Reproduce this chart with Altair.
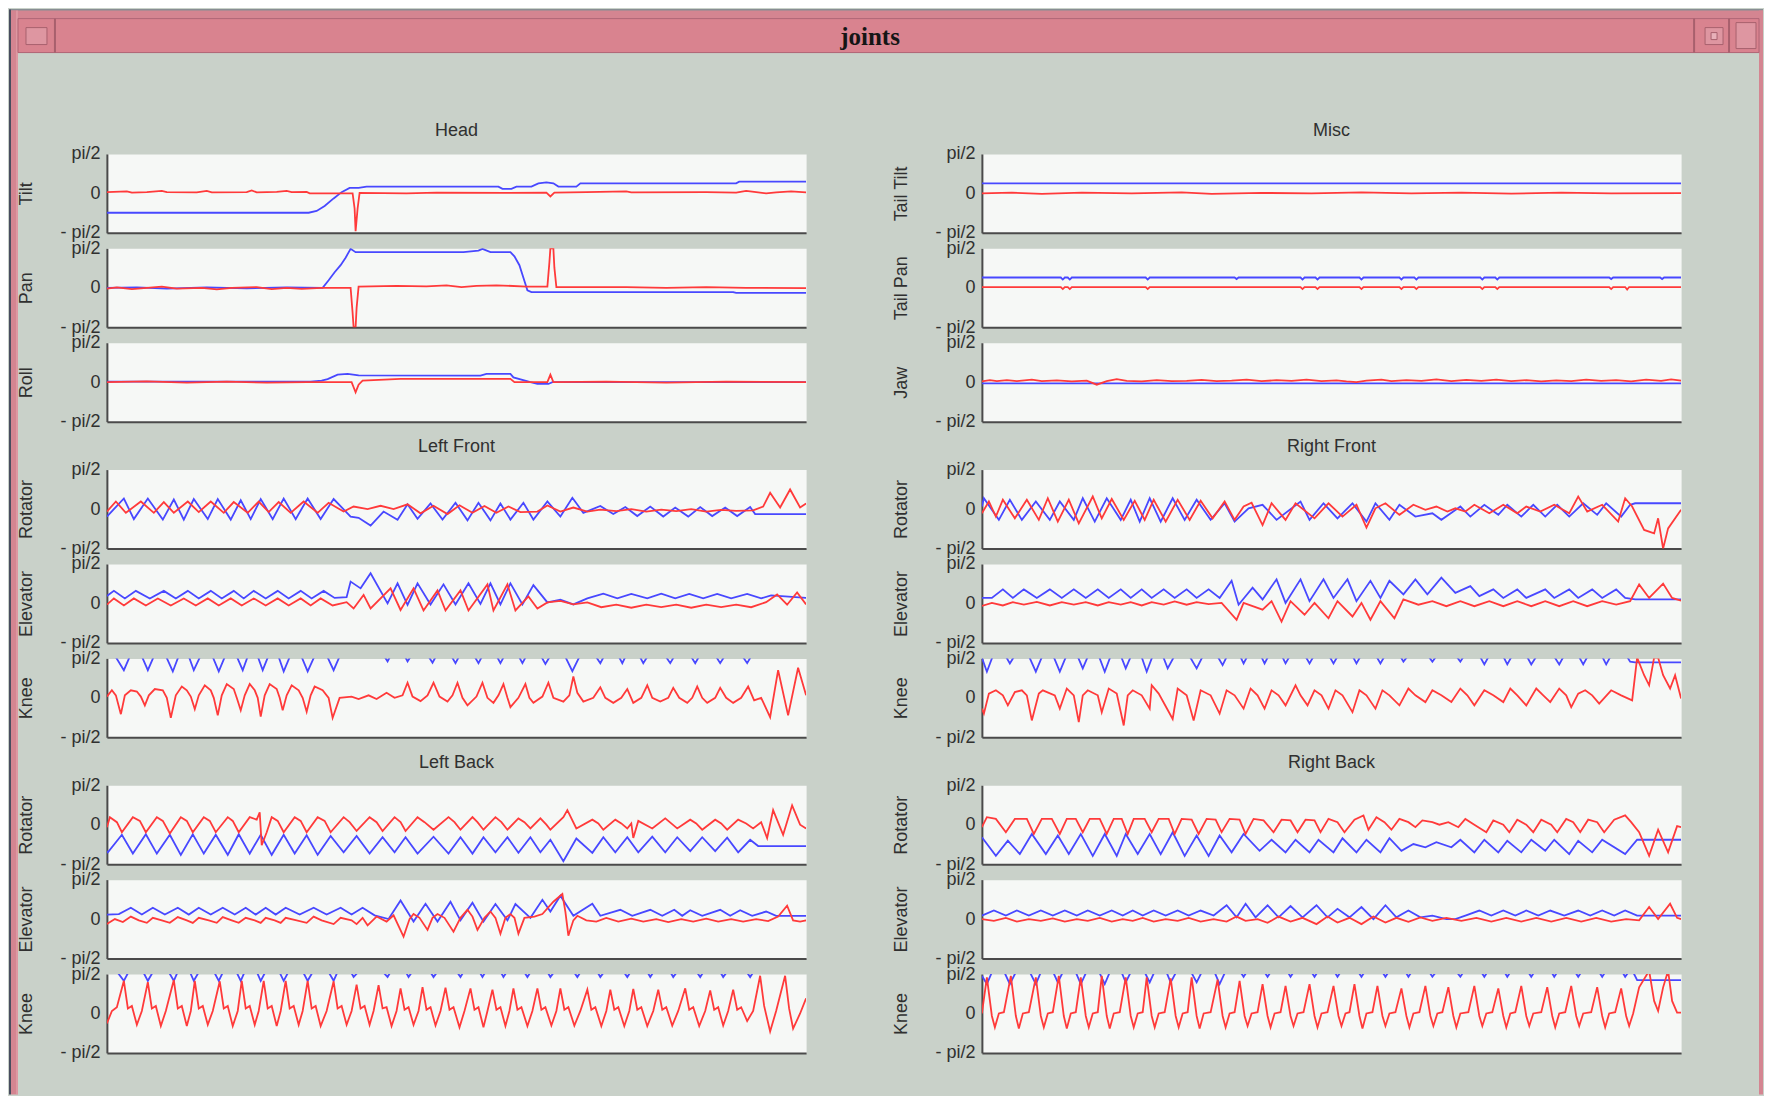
import math
import altair as alt
import pandas as pd

PI2 = math.pi / 2
FRAMES = 700

RED = "#ff3a3a"
BLUE = "#4848ff"
WINDOW = "#c9d1c9"
PLOT_BG = "#f6f8f6"
AXIS = "#4a4a4a"
TEXT = "#303030"
PINK = "#d9838f"
PINK_FRAME = "#d48591"
PINK_DARK = "#a8606d"
DARK = "#474d5e"
FONT = "Liberation Sans"

# ---------------- data: (frame, angle in rad) ----------------
# Head
HEAD_TILT_BLUE = [(0,-0.77),(202,-0.77),(210,-0.7),(218,-0.5),(227,-0.2),(235,0.05),(243,0.22),(252,0.22),(260,0.27),
                  (392,0.27),(396,0.18),(405,0.18),(410,0.27),(425,0.27),(432,0.4),(440,0.44),(447,0.4),(452,0.27),
                  (470,0.27),(474,0.4),(630,0.4),(633,0.47),(700,0.47)]
HEAD_TILT_RED = [(0,0.05),(20,0.08),(25,0.03),(40,0.05),(55,0.1),(60,0.05),(90,0.04),(100,0.1),(105,0.04),(140,0.05),
                 (145,0.12),(150,0.04),(170,0.06),(180,0.1),(185,0.05),(200,0.06),(203,0.0),(246,0.0),(248,-0.6),
                 (249,-1.5),(251,-0.6),(253,0.02),(300,0.0),(330,0.03),(400,0.02),(440,0.03),(444,-0.12),(448,0.03),
                 (480,0.05),(520,0.08),(525,0.04),(600,0.05),(630,0.03),(640,0.1),(650,0.05),(660,0.0),(670,0.04),
                 (685,0.08),(700,0.04)]
HEAD_PAN_BLUE = [(0,0.0),(30,0.02),(60,-0.03),(100,0.02),(140,-0.02),(180,0.02),(216,0.0),(222,0.3),(228,0.62),
                 (234,0.9),(239,1.2),(244,1.55),(249,1.42),(357,1.42),(372,1.48),(376,1.55),(384,1.42),(404,1.42),
                 (408,1.25),(413,0.9),(417,0.4),(421,-0.1),(425,-0.17),(627,-0.17),(630,-0.2),(700,-0.2)]
HEAD_PAN_RED = [(0,-0.03),(10,0.02),(25,-0.05),(40,0.0),(55,0.05),(70,-0.03),(95,0.0),(110,-0.06),(125,0.0),
                (150,0.03),(165,-0.05),(180,0.0),(195,-0.04),(215,0.0),(244,0.0),(246,-1.0),(247,-1.57),(249,-1.57),
                (250,-0.8),(252,0.05),(290,0.08),(320,0.06),(340,0.1),(355,0.03),(370,0.08),(390,0.1),(420,0.05),
                (441,0.05),(443,1.0),(444,1.57),(447,1.57),(448,0.8),(450,0.03),(520,0.03),(560,0.0),(600,0.03),
                (640,0.0),(700,-0.01)]
HEAD_ROLL_BLUE = [(0,0.02),(204,0.02),(215,0.06),(221,0.12),(231,0.3),(241,0.33),(252,0.27),(374,0.26),(380,0.33),
                  (404,0.33),(407,0.19),(424,0.0),(431,-0.07),(442,-0.07),(446,0.0),(700,0.0)]
HEAD_ROLL_RED = [(0,0.0),(40,0.03),(80,-0.02),(120,0.02),(160,-0.02),(200,0.0),(245,0.0),(247,-0.2),(249,-0.4),
                 (252,-0.1),(256,0.06),(294,0.13),(404,0.13),(408,0.0),(441,0.0),(444,0.3),(447,0.0),(500,0.02),
                 (560,-0.02),(620,0.02),(700,0.0)]

# Misc
TAIL_TILT_BLUE = [(0,0.4),(700,0.4)]
TAIL_TILT_RED = [(0,0.0),(30,0.03),(60,-0.02),(100,0.03),(150,0.0),(200,0.04),(230,-0.02),(280,0.02),(330,0.0),
                 (380,0.04),(430,0.0),(480,0.03),(530,-0.01),(580,0.03),(630,0.0),(700,0.01)]
TAIL_PAN_BLUE = [(0,0.41),(79,0.41),(81,0.33),(83,0.41),(86,0.41),(88,0.33),(90,0.41),(164,0.41),(166,0.33),
                 (168,0.41),(253,0.41),(255,0.35),(257,0.41),(319,0.41),(321,0.33),(323,0.41),(334,0.41),(336,0.33),
                 (338,0.41),(378,0.41),(380,0.33),(382,0.41),(418,0.41),(420,0.33),(422,0.41),(433,0.41),(435,0.33),
                 (437,0.41),(499,0.41),(501,0.33),(503,0.41),(514,0.41),(516,0.33),(518,0.41),(628,0.41),(630,0.35),
                 (632,0.41),(679,0.41),(681,0.35),(683,0.41),(700,0.41)]
TAIL_PAN_RED = [(0,0.03),(79,0.03),(81,-0.05),(83,0.03),(86,0.03),(88,-0.05),(90,0.03),(164,0.03),(166,-0.05),
                (168,0.03),(319,0.03),(321,-0.05),(323,0.03),(334,0.03),(336,-0.05),(338,0.03),(378,0.03),(380,-0.05),
                (382,0.03),(418,0.03),(420,-0.05),(422,0.03),(433,0.03),(435,-0.05),(437,0.03),(499,0.03),(501,-0.05),
                (503,0.03),(514,0.03),(516,-0.05),(518,0.03),(628,0.03),(630,-0.05),(632,0.03),(644,0.03),(646,-0.07),
                (648,0.03),(700,0.03)]
JAW_BLUE = [(0,-0.05),(700,-0.05)]
JAW_RED = [(0,0.03),(8,0.08),(15,0.04),(25,0.08),(35,0.04),(50,0.1),(60,0.04),(75,0.07),(90,0.03),(105,0.06),
           (115,-0.1),(125,0.04),(135,0.12),(145,0.05),(160,0.03),(175,0.08),(190,0.04),(205,0.05),(220,0.09),
           (235,0.04),(250,0.06),(265,0.1),(280,0.04),(295,0.08),(310,0.05),(325,0.1),(340,0.04),(355,0.07),
           (365,0.03),(375,0.0),(385,0.06),(400,0.1),(410,0.04),(425,0.08),(440,0.05),(455,0.11),(470,0.04),
           (485,0.09),(500,0.05),(515,0.1),(530,0.04),(545,0.08),(560,0.03),(575,0.07),(590,0.04),(605,0.1),
           (620,0.05),(635,0.08),(650,0.03),(665,0.1),(680,0.05),(690,0.11),(700,0.06)]

# Left Front
LF_ROT_BLUE = [(0,-0.3),(17,0.42),(27,-0.4),(41,0.42),(56,-0.42),(67,0.38),(77,-0.42),(87,0.4),(101,-0.4),(111,0.4),
               (124,-0.42),(134,0.35),(144,-0.4),(154,0.4),(166,-0.4),(177,0.42),(189,-0.4),(201,0.42),(214,-0.4),
               (227,0.4),(244,-0.3),(252,-0.35),(264,-0.66),(277,-0.1),(291,-0.43),(301,0.19),(311,-0.39),(324,0.22),
               (336,-0.42),(349,0.25),(361,-0.45),(372,0.25),(384,-0.45),(394,0.22),(404,-0.42),(417,0.25),
               (427,-0.42),(441,0.3),(454,-0.3),(466,0.45),(477,-0.15),(494,0.12),(507,-0.2),(519,0.08),(531,-0.28),
               (544,0.1),(557,-0.3),(569,0.06),(582,-0.3),(594,0.08),(606,-0.28),(619,0.06),(631,-0.28),(644,0.08),
               (649,-0.2),(700,-0.2)]
LF_ROT_RED = [(0,-0.1),(9,0.3),(19,-0.15),(34,0.3),(47,-0.15),(57,0.28),(67,-0.15),(81,0.3),(92,-0.12),(104,0.3),
              (117,-0.15),(127,0.28),(141,-0.15),(152,0.3),(162,-0.12),(172,0.28),(184,-0.15),(197,0.3),(211,-0.15),
              (222,0.25),(237,-0.1),(247,0.1),(261,0.0),(274,0.13),(287,0.0),(301,0.19),(314,-0.17),(327,0.13),
              (341,-0.2),(353,0.15),(366,-0.15),(378,0.12),(390,-0.15),(402,0.1),(414,-0.12),(431,-0.1),(441,0.14),
              (454,-0.1),(467,0.06),(481,-0.1),(494,-0.02),(510,-0.08),(525,0.0),(540,-0.1),(555,-0.02),(570,-0.08),
              (585,0.0),(600,-0.1),(615,-0.03),(630,-0.07),(647,-0.05),(657,0.1),(664,0.65),(674,0.06),(684,0.78),
              (694,0.06),(700,0.22)]
LF_ELEV_BLUE = [(0,0.3),(7,0.5),(18,0.2),(29,0.5),(43,0.2),(57,0.5),(69,0.2),(81,0.5),(92,0.2),(104,0.5),(115,0.2),
                (127,0.5),(137,0.2),(147,0.5),(159,0.2),(171,0.5),(182,0.2),(194,0.5),(205,0.2),(217,0.5),(228,0.22),
                (240,0.25),(244,0.87),(254,0.6),(264,1.2),(281,0.0),(291,0.8),(301,-0.06),(311,0.8),(324,-0.04),
                (337,0.76),(349,-0.04),(362,0.8),(374,-0.02),(384,0.8),(394,-0.04),(404,0.8),(416,-0.04),(427,0.73),
                (441,0.04),(454,0.15),(467,-0.04),(481,0.2),(497,0.39),(511,0.2),(525,0.38),(541,0.2),(555,0.39),
                (569,0.2),(583,0.38),(597,0.2),(611,0.38),(625,0.2),(641,0.38),(655,0.2),(665,0.32),(700,0.22)]
LF_ELEV_RED = [(0,-0.05),(7,0.2),(17,-0.08),(27,0.2),(39,-0.08),(51,0.2),(64,-0.08),(77,0.2),(89,-0.08),(101,0.2),
               (112,-0.08),(124,0.2),(135,-0.08),(147,0.2),(159,-0.08),(171,0.2),(182,-0.08),(194,0.2),(204,-0.08),
               (214,0.2),(226,-0.08),(240,0.05),(247,-0.2),(257,0.34),(264,-0.2),(284,0.6),(294,-0.26),(307,0.6),
               (317,-0.28),(331,0.52),(339,-0.28),(354,0.52),(362,-0.28),(381,0.76),(387,-0.28),(401,0.76),
               (409,-0.28),(422,0.28),(431,-0.2),(441,0.04),(454,0.1),(467,-0.04),(481,0.04),(495,-0.15),(510,-0.05),
               (525,-0.17),(540,-0.05),(555,-0.15),(570,-0.05),(585,-0.17),(600,-0.05),(615,-0.15),(630,-0.05),
               (645,-0.15),(660,0.05),(671,0.36),(681,-0.05),(691,0.44),(700,-0.04)]
LF_KNEE_BLUE = [(0,2.2),(17,1.1),(29,2.2),(41,1.1),(53,2.2),(66,1.05),(77,2.2),(87,1.1),(100,2.2),(112,1.05),
                (124,2.2),(136,1.1),(146,2.2),(156,1.1),(167,2.2),(177,1.05),(189,2.2),(201,1.05),(214,2.2),
                (227,1.1),(239,2.2),(269,2.2),(281,1.45),(291,2.2),(301,1.45),(313,2.2),(326,1.4),(337,2.2),
                (349,1.38),(360,2.2),(372,1.38),(383,2.2),(394,1.38),(405,2.2),(416,1.38),(427,2.2),(439,1.35),
                (452,2.2),(466,1.06),(480,2.2),(494,1.38),(505,2.2),(516,1.38),(526,2.2),(537,1.38),(550,2.2),
                (564,1.38),(576,2.2),(589,1.38),(601,2.2),(614,1.38),(627,2.2),(641,1.38),(653,2.2),(700,2.2)]
LF_KNEE_RED = [(0,0.05),(5,0.3),(9,0.1),(14,-0.65),(18,0.1),(24,0.3),(30,0.25),(34,0.05),(38,-0.3),(42,0.1),
               (48,0.35),(56,0.3),(60,0.0),(64,-0.8),(69,0.1),(75,0.45),(80,0.3),(84,0.05),(88,-0.45),(92,0.1),
               (98,0.5),(104,0.3),(107,0.0),(111,-0.7),(115,0.1),(120,0.55),(127,0.35),(130,0.0),(134,-0.5),
               (138,0.1),(143,0.55),(148,0.3),(151,0.0),(154,-0.75),(158,0.1),(163,0.55),(170,0.35),(173,0.0),
               (176,-0.5),(180,0.1),(185,0.5),(192,0.3),(196,0.0),(200,-0.55),(204,0.1),(208,0.45),(216,0.3),
               (222,0.0),(226,-0.8),(233,0.0),(245,0.05),(252,-0.05),(262,0.1),(270,-0.05),(280,0.2),(288,0.0),
               (296,0.1),(301,0.6),(306,0.05),(314,-0.13),(321,0.1),(327,0.6),(333,0.05),(341,-0.15),(346,0.1),
               (351,0.6),(356,0.0),(361,-0.3),(370,0.05),(376,0.6),(381,0.0),(387,-0.2),(392,0.1),(397,0.55),
               (401,0.0),(404,-0.37),(412,0.0),(419,0.55),(423,0.0),(427,-0.2),(436,0.05),(442,0.6),(447,0.0),
               (457,-0.15),(463,0.1),(467,0.85),(471,0.2),(477,-0.15),(487,0.0),(494,0.42),(499,0.0),(507,-0.2),
               (515,0.0),(521,0.35),(527,-0.2),(535,0.0),(541,0.5),(546,0.0),(554,-0.15),(562,0.0),(567,0.4),
               (573,0.0),(581,-0.2),(586,0.0),(591,0.45),(596,0.0),(601,-0.2),(609,0.0),(614,0.4),(620,0.0),
               (627,-0.2),(635,0.0),(642,0.45),(648,-0.1),(655,0.0),(664,-0.77),(672,1.1),(682,-0.7),(692,1.2),
               (700,0.1)]

# Left Back
LB_ROT_BLUE = [(0,-1.05),(1,-1.1),(15,-0.4),(26,-1.15),(39,-0.38),(50,-1.15),(63,-0.4),(74,-1.2),(86,-0.38),
               (97,-1.15),(109,-0.4),(121,-1.2),(132,-0.38),(143,-1.15),(154,-0.4),(165,-1.2),(177,-0.4),(188,-1.15),
               (200,-0.42),(211,-1.2),(224,-0.45),(237,-1.1),(250,-0.45),(263,-1.15),(276,-0.5),(288,-1.1),
               (299,-0.5),(311,-1.15),(327,-0.48),(342,-1.15),(354,-0.5),(366,-1.15),(377,-0.5),(389,-1.1),
               (401,-0.5),(412,-1.12),(424,-0.5),(434,-1.1),(444,-0.6),(457,-1.45),(470,-0.55),(486,-1.12),
               (497,-0.5),(509,-1.1),(521,-0.5),(532,-1.1),(546,-0.48),(559,-1.1),(571,-0.5),(584,-1.05),(596,-0.5),
               (609,-1.05),(621,-0.52),(632,-1.1),(644,-0.6),(652,-0.85),(700,-0.85)]
LB_ROT_RED = [(0,-0.1),(3,0.3),(10,0.1),(15,-0.3),(26,0.3),(33,0.15),(39,-0.3),(50,0.3),(56,0.15),(63,-0.35),
              (74,0.3),(80,0.15),(86,-0.3),(97,0.3),(103,0.15),(109,-0.3),(121,0.3),(126,0.15),(132,-0.3),(143,0.3),
              (150,0.2),(153,0.49),(155,-0.82),(160,-0.3),(165,0.3),(171,0.15),(177,-0.3),(188,0.3),(194,0.15),
              (200,-0.3),(211,0.3),(218,0.15),(224,-0.3),(237,0.3),(243,0.1),(250,-0.25),(263,0.3),(270,0.1),
              (276,-0.25),(288,0.3),(294,0.1),(299,-0.25),(311,0.3),(318,0.1),(327,-0.2),(342,0.3),(348,0.1),
              (354,-0.2),(366,0.3),(371,0.1),(377,-0.2),(389,0.3),(395,0.1),(401,-0.2),(412,0.25),(418,0.1),
              (424,-0.15),(434,0.25),(440,0.0),(444,-0.2),(457,0.3),(461,0.58),(470,-0.15),(486,0.2),(492,0.05),
              (497,-0.2),(509,0.2),(515,0.05),(521,-0.15),(525,0.05),(527,-0.53),(532,0.15),(546,-0.15),(559,0.25),
              (565,0.05),(571,-0.15),(584,0.2),(590,0.05),(596,-0.2),(609,0.2),(615,0.05),(621,-0.2),(632,0.2),
              (640,0.05),(647,-0.15),(655,0.1),(661,-0.53),(667,0.58),(677,-0.4),(686,0.77),(694,0.0),(700,-0.15)]
LB_ELEV_BLUE = [(0,0.18),(12,0.2),(24,0.45),(35,0.18),(46,0.45),(58,0.18),(71,0.45),(82,0.18),(92,0.45),(104,0.18),
                (116,0.45),(128,0.18),(139,0.45),(149,0.18),(159,0.45),(169,0.18),(179,0.45),(193,0.18),(207,0.45),
                (220,0.18),(234,0.45),(245,0.18),(256,0.45),(268,0.15),(282,0.0),(294,0.74),(307,-0.1),(319,0.61),
                (331,-0.1),(344,0.69),(354,-0.05),(366,0.65),(377,-0.1),(389,0.6),(401,-0.05),(409,0.6),(424,0.05),
                (436,0.77),(444,0.3),(454,0.93),(467,0.13),(486,0.61),(494,0.13),(514,0.37),(526,0.13),(544,0.37),
                (556,0.13),(568,0.37),(576,0.13),(584,0.35),(596,0.13),(614,0.37),(624,0.13),(634,0.35),(646,0.13),
                (660,0.3),(670,0.13),(700,0.13)]
LB_ELEV_RED = [(0,-0.2),(8,0.0),(16,-0.12),(24,0.1),(32,-0.05),(40,-0.15),(46,0.05),(55,-0.05),(63,-0.15),(71,0.08),
               (80,-0.05),(86,-0.15),(92,0.05),(102,-0.05),(110,-0.15),(116,0.08),(125,-0.05),(132,-0.15),(139,0.05),
               (148,-0.05),(154,-0.15),(159,0.05),(168,-0.05),(174,-0.15),(179,0.05),(190,-0.05),(200,-0.15),
               (207,0.1),(215,-0.05),(227,-0.2),(234,0.05),(245,-0.05),(250,-0.2),(256,0.05),(261,-0.25),(270,0.1),
               (280,-0.1),(287,0.15),(297,-0.7),(303,0.0),(307,0.2),(313,0.05),(321,-0.43),(326,0.05),(331,0.2),
               (338,0.05),(347,-0.5),(354,0.05),(361,0.37),(366,0.1),(371,-0.43),(378,0.05),(384,0.3),(389,0.05),
               (394,-0.58),(399,0.05),(404,0.2),(408,0.05),(412,-0.58),(418,0.05),(428,0.1),(436,0.2),(447,0.69),
               (456,1.0),(459,0.3),(462,-0.66),(467,-0.05),(471,0.13),(480,-0.05),(490,-0.1),(500,0.05),(512,-0.1),
               (525,0.02),(537,-0.1),(550,0.0),(562,-0.12),(575,0.0),(587,-0.1),(600,0.02),(612,-0.1),(625,0.0),
               (637,-0.1),(650,0.0),(662,-0.08),(672,0.1),(681,0.53),(687,-0.05),(694,-0.1),(700,-0.05)]
LB_KNEE_BLUE = [(0,2.2),(17,1.3),(29,2.2),(41,1.3),(54,2.2),(67,1.3),(77,2.2),(87,1.3),(100,2.2),(112,1.3),
                (123,2.2),(134,1.3),(144,2.2),(154,1.3),(166,2.2),(177,1.3),(189,2.2),(201,1.3),(214,2.2),(227,1.3),
                (237,2.2),(247,1.45),(264,2.2),(281,1.45),(292,2.2),(302,1.45),(315,2.2),(327,1.45),(341,2.2),
                (354,1.45),(365,2.2),(376,1.45),(387,2.2),(397,1.45),(409,2.2),(421,1.45),(433,2.2),(444,1.45),
                (458,2.2),(471,1.45),(483,2.2),(494,1.45),(508,2.2),(521,1.45),(533,2.2),(544,1.45),(556,2.2),
                (567,1.45),(581,2.2),(594,1.45),(606,2.2),(617,1.45),(631,2.2),(644,1.45),(656,2.2),(700,2.2)]
LB_KNEE_RED = [(0,-0.4),(5,0.1),(10,0.25),
               (17,1.3),(21,0.2),(25,0.3),(30,-0.45),(35,0.1),
               (41,1.25),(45,0.2),(49,0.3),(54,-0.5),(59,0.1),
               (67,1.33),(71,0.2),(75,0.3),(80,-0.5),(84,0.1),
               (88,1.3),(92,0.2),(96,0.3),(101,-0.45),(106,0.1),
               (113,1.28),(117,0.2),(121,0.3),(126,-0.5),(131,0.1),
               (135,1.3),(139,0.2),(143,0.3),(148,-0.45),(152,0.1),
               (157,1.3),(161,0.2),(165,0.3),(170,-0.5),(174,0.1),
               (179,1.3),(183,0.2),(187,0.3),(192,-0.45),(196,0.1),
               (201,1.3),(205,0.2),(209,0.3),(214,-0.5),(220,0.1),
               (227,1.28),(231,0.2),(235,0.3),(240,-0.45),(245,0.1),
               (250,1.15),(254,0.2),(258,0.3),(263,-0.45),(267,0.1),
               (272,1.13),(276,0.2),(280,0.25),(285,-0.5),(290,0.1),
               (294,1.0),(298,0.15),(302,0.25),(307,-0.45),(312,0.1),
               (316,1.05),(320,0.15),(324,0.25),(329,-0.48),(334,0.1),
               (339,1.03),(343,0.15),(347,0.25),(353,-0.55),(358,0.1),
               (364,1.0),(368,0.15),(372,0.25),(377,-0.55),(381,0.1),
               (386,0.95),(390,0.15),(394,0.25),(399,-0.5),(403,0.1),
               (407,1.0),(411,0.15),(415,0.25),(421,-0.5),(426,0.1),
               (431,1.0),(435,0.15),(439,0.25),(445,-0.48),(450,0.1),
               (454,1.0),(458,0.15),(462,0.25),(468,-0.48),(474,0.1),
               (481,0.95),(485,0.15),(489,0.25),(495,-0.5),(500,0.1),
               (504,0.95),(508,0.15),(512,0.25),(518,-0.5),(523,0.1),
               (527,0.98),(531,0.15),(535,0.25),(541,-0.5),(547,0.1),
               (552,0.95),(556,0.15),(560,0.25),(566,-0.48),(572,0.1),
               (579,1.0),(583,0.15),(587,0.25),(593,-0.5),(599,0.1),
               (604,0.92),(608,0.15),(612,0.25),(617,-0.48),(622,0.1),
               (627,0.95),(631,0.15),(635,0.25),(641,-0.3),(647,0.1),
               (654,1.5),(658,0.3),(664,-0.72),(670,0.1),
               (679,1.5),(683,0.2),(687,-0.6),(694,0.0),(700,0.6)]

# Right Front
RF_ROT_BLUE = [(0,0.1),(2,0.43),(17,-0.43),(28,0.37),(40,-0.43),(54,0.3),(68,-0.43),(78,0.3),(92,-0.43),(101,0.43),
               (113,-0.5),(125,0.43),(139,-0.43),(149,0.37),(158,-0.5),(168,0.43),(179,-0.5),(191,0.43),(203,-0.43),
               (215,0.37),(229,-0.43),(243,0.23),(253,-0.5),(267,0.03),(281,0.17),(295,-0.43),(319,0.3),(328,-0.43),
               (342,0.23),(356,-0.37),(371,0.23),(385,-0.5),(394,0.23),(408,-0.43),(418,0.17),(434,-0.3),
               (451,-0.17),(460,-0.43),(479,0.1),(489,-0.3),(503,0.17),(517,-0.23),(526,0.17),(540,-0.3),(552,0.17),
               (564,-0.3),(576,0.17),(588,-0.3),(602,0.23),(616,-0.23),(625,0.23),(640,-0.3),(649,0.17),(654,0.23),
               (700,0.23)]
RF_ROT_RED = [(0,-0.17),(7,0.3),(14,-0.3),(21,0.37),(33,-0.37),(45,0.37),(57,-0.43),(66,0.43),(76,-0.5),(87,0.37),
              (97,-0.57),(111,0.5),(120,-0.37),(130,0.4),(142,-0.43),(153,0.33),(163,-0.43),(172,0.37),(184,-0.5),
              (196,0.37),(208,-0.43),(219,0.33),(231,-0.37),(243,0.3),(253,-0.43),(262,0.1),(270,0.25),(281,-0.64),
              (290,0.23),(304,-0.43),(314,0.23),(333,-0.37),(347,0.23),(361,-0.3),(375,0.17),(385,-0.74),(394,0.03),
              (404,0.23),(418,-0.23),(432,0.17),(444,-0.03),(455,0.1),(466,-0.1),(474,0.03),(484,-0.1),(493,0.17),
              (508,-0.17),(522,0.17),(536,-0.17),(545,0.1),(559,-0.1),(573,0.17),(588,-0.17),(597,0.5),(606,-0.1),
              (621,0.17),(637,-0.5),(644,0.43),(651,0.1),(663,-0.83),(673,-0.97),(677,-0.37),(682,-1.57),
              (687,-0.77),(700,-0.03)]
RF_ELEV_BLUE = [(0,0.22),(10,0.22),(21,0.56),(31,0.22),(42,0.56),(55,0.22),(68,0.56),(80,0.22),(92,0.56),(104,0.22),
                (116,0.56),(127,0.22),(139,0.56),(149,0.22),(160,0.56),(170,0.22),(182,0.56),(193,0.22),(205,0.56),
                (215,0.22),(227,0.56),(238,0.22),(250,0.9),(257,-0.05),(271,0.63),(281,0.16),(295,0.96),(304,0.02),
                (319,0.96),(328,0.09),(342,0.96),(352,0.22),(366,0.96),(375,0.09),(389,0.9),(399,0.22),(408,0.9),
                (422,0.36),(434,0.96),(446,0.36),(460,1.03),(474,0.42),(489,0.69),(498,0.29),(512,0.56),(522,0.22),
                (536,0.56),(545,0.22),(564,0.56),(573,0.22),(588,0.56),(597,0.22),(611,0.56),(621,0.22),(635,0.56),
                (644,0.22),(654,0.16),(700,0.16)]
RF_ELEV_RED = [(0,-0.1),(10,0.02),(21,-0.08),(31,0.05),(42,-0.05),(55,0.06),(68,-0.08),(80,0.05),(92,-0.05),
               (104,0.05),(116,-0.08),(127,0.05),(139,-0.05),(149,0.05),(160,-0.08),(170,0.05),(182,-0.05),(193,0.08),
               (205,-0.05),(215,0.05),(227,-0.03),(240,0.02),(255,-0.65),(262,0.02),(281,-0.25),(290,0.09),
               (300,-0.72),(309,0.09),(323,-0.45),(333,0.02),(347,-0.59),(356,0.09),(371,-0.52),(380,0.02),
               (389,-0.65),(399,0.09),(413,-0.59),(422,0.16),(437,-0.05),(451,0.09),(465,-0.11),(479,0.09),
               (493,-0.11),(508,0.09),(522,-0.11),(536,0.09),(550,-0.11),(564,0.09),(578,-0.11),(592,0.09),
               (606,-0.11),(621,0.09),(635,-0.05),(649,0.09),(658,0.76),(668,0.22),(682,0.79),(691,0.22),(700,0.11)]
RF_KNEE_BLUE = [(0,1.6),(5,1.04),(16,2.2),(28,1.37),(41,2.2),(54,1.04),(66,2.2),(78,1.04),(90,2.2),(101,1.17),
                (112,2.2),(123,1.04),(134,2.2),(144,1.17),(155,2.2),(165,1.04),(176,2.2),(186,1.17),(200,2.2),
                (215,1.17),(228,2.2),(241,1.3),(252,2.2),(262,1.37),(273,2.2),(283,1.37),(294,2.2),(304,1.37),
                (316,2.2),(328,1.37),(340,2.2),(352,1.37),(364,2.2),(375,1.37),(387,2.2),(399,1.37),(411,2.2),
                (422,1.44),(437,2.2),(451,1.44),(465,2.2),(479,1.44),(491,2.2),(503,1.33),(515,2.2),(526,1.33),
                (538,2.2),(550,1.33),(564,2.2),(578,1.33),(590,2.2),(602,1.33),(614,2.2),(625,1.33),(637,2.2),
                (649,1.44),(654,1.41),(700,1.41)]
RF_KNEE_RED = [(0,-0.43),(2,-0.63),(7,0.17),(14,0.3),(21,0.1),(26,-0.3),(33,0.23),(40,0.3),(45,0.1),(50,-0.9),
               (57,0.17),(61,0.3),(73,0.1),(78,-0.43),(85,0.37),(92,0.1),(97,-0.97),(101,0.1),(106,0.3),(116,0.1),
               (120,-0.57),(127,0.37),(135,0.17),(142,-1.1),(146,0.1),(151,0.3),(160,0.1),(168,-0.43),(170,0.5),
               (177,0.17),(191,-0.84),(196,0.37),(205,0.1),(212,-0.9),(219,0.3),(229,0.1),(238,-0.63),(245,0.3),
               (253,0.1),(262,-0.43),(269,0.37),(276,0.1),(283,-0.43),(290,0.3),(297,0.1),(304,-0.3),(314,0.5),
               (319,0.1),(326,-0.3),(333,0.3),(340,0.1),(347,-0.43),(354,0.3),(361,0.1),(371,-0.57),(378,0.3),
               (385,0.1),(394,-0.43),(401,0.3),(408,0.1),(418,-0.3),(427,0.37),(434,0.1),(444,-0.17),(451,0.3),
               (460,0.1),(470,-0.17),(479,0.37),(486,0.1),(493,-0.3),(503,0.3),(512,0.1),(522,-0.17),(529,0.37),
               (536,0.1),(545,-0.3),(555,0.37),(562,0.1),(569,-0.17),(578,0.37),(585,0.1),(590,-0.37),(597,0.17),
               (604,0.3),(611,0.1),(618,-0.23),(630,0.3),(640,0.1),(651,-0.1),(656,1.6),(663,0.9),(668,0.5),
               (673,1.6),(677,1.6),(682,0.9),(689,0.37),(694,0.9),(700,-0.03)]

# Right Back
RB_ROT_BLUE = [(0,-0.5),(14,-1.24),(26,-0.64),(38,-1.17),(50,-0.37),(64,-1.17),(76,-0.43),(87,-1.17),(99,-0.37),
               (111,-1.24),(123,-0.37),(135,-1.24),(144,-0.37),(156,-1.17),(168,-0.37),(179,-1.17),(191,-0.3),
               (203,-1.24),(215,-0.43),(227,-1.24),(238,-0.43),(250,-1.1),(262,-0.37),(278,-1.04),(290,-0.6),
               (304,-1.1),(314,-0.6),(328,-1.1),(337,-0.6),(352,-1.1),(361,-0.54),(375,-1.1),(385,-0.6),(399,-1.1),
               (408,-0.54),(420,-1.04),(432,-0.77),(444,-0.9),(455,-0.7),(470,-0.9),(479,-0.6),(493,-1.1),
               (503,-0.6),(517,-1.1),(526,-0.64),(540,-1.1),(550,-0.6),(564,-1.04),(573,-0.6),(588,-1.17),
               (597,-0.64),(611,-1.1),(621,-0.6),(644,-1.17),(656,-0.6),(700,-0.6)]
RB_ROT_RED = [(0,-0.1),(5,0.3),(14,0.23),(24,-0.3),(33,0.23),(45,0.23),(52,-0.37),(60,0.23),(70,0.23),(78,-0.37),
              (85,0.23),(94,0.23),(101,-0.3),(108,0.23),(118,0.23),(125,-0.37),(132,0.23),(140,0.23),(146,-0.37),
              (152,0.23),(163,0.23),(170,-0.3),(177,0.23),(187,0.23),(193,-0.37),(200,0.23),(210,0.2),(217,-0.37),
              (225,0.23),(234,0.2),(240,-0.3),(248,0.23),(258,0.2),(264,-0.37),(272,0.23),(282,0.17),(292,-0.3),
              (300,0.2),(309,0.17),(316,-0.3),(324,0.2),(333,0.17),(339,-0.3),(347,0.23),(356,0.1),(363,-0.3),
              (373,0.2),(382,0.37),(387,-0.2),(395,0.3),(403,0.1),(410,-0.2),(418,0.23),(427,0.1),(434,-0.1),
              (441,0.17),(451,0.1),(458,0.0),(467,0.1),(477,-0.1),(484,0.23),(493,0.0),(505,-0.3),(512,0.17),
              (522,0.0),(528,-0.3),(536,0.2),(545,0.0),(552,-0.3),(560,0.2),(570,0.0),(576,-0.3),(585,0.23),
              (592,0.1),(599,-0.3),(607,0.2),(616,0.1),(623,-0.3),(633,0.2),(644,0.37),(650,0.1),(658,-0.3),
              (668,-1.24),(677,-0.2),(687,-1.1),(696,-0.06),(700,-0.1)]
RB_ELEV_BLUE = [(0,0.14),(12,0.34),(24,0.14),(35,0.34),(47,0.14),(59,0.34),(71,0.14),(83,0.34),(95,0.14),(106,0.34),
                (118,0.14),(130,0.34),(141,0.14),(151,0.34),(161,0.14),(172,0.34),(184,0.14),(196,0.34),(207,0.14),
                (219,0.34),(232,0.14),(245,0.55),(255,0.07),(264,0.61),(274,0.07),(286,0.55),(297,0.07),(309,0.52),
                (321,0.07),(335,0.55),(346,0.07),(356,0.41),(368,0.07),(380,0.48),(392,0.0),(404,0.55),(415,0.07),
                (427,0.34),(439,0.07),(451,0.14),(465,0.0),(474,0.0),(484,0.14),(498,0.34),(510,0.14),(522,0.34),
                (534,0.14),(545,0.34),(557,0.14),(569,0.34),(583,0.14),(597,0.34),(609,0.14),(621,0.34),(633,0.14),
                (644,0.34),(656,0.14),(700,0.14)]
RB_ELEV_RED = [(0,0.0),(12,-0.07),(24,0.05),(35,-0.1),(47,0.0),(59,-0.07),(71,0.03),(83,-0.1),(95,0.0),(106,-0.07),
               (118,0.05),(130,-0.1),(141,0.0),(151,-0.07),(161,0.05),(172,-0.1),(184,0.0),(196,-0.07),(207,0.05),
               (219,-0.1),(232,0.0),(245,-0.1),(255,0.1),(264,-0.07),(276,0.0),(286,-0.15),(297,0.1),(309,-0.1),
               (321,0.05),(335,-0.2),(346,0.1),(356,-0.14),(368,0.05),(380,-0.2),(392,0.1),(404,-0.14),(415,0.05),
               (427,-0.11),(439,0.07),(451,-0.07),(465,0.05),(480,-0.07),(495,0.05),(510,-0.1),(525,0.05),(540,-0.1),
               (555,0.05),(570,-0.1),(585,0.05),(600,-0.1),(615,0.05),(630,-0.1),(645,0.0),(658,-0.05),(668,0.48),
               (677,0.0),(689,0.61),(696,0.05),(700,0.0)]
RB_KNEE_BLUE = [(0,1.5),(5,1.17),(16,2.2),(28,1.17),(41,2.2),(54,1.17),(65,2.2),(76,1.24),(88,2.2),(99,1.17),
                (111,2.2),(123,1.17),(134,2.2),(144,1.24),(156,2.2),(168,1.24),(179,2.2),(189,1.24),(202,2.2),
                (215,1.24),(227,2.2),(238,1.17),(250,2.2),(262,1.46),(274,2.2),(286,1.46),(298,2.2),(309,1.46),
                (321,2.2),(333,1.46),(345,2.2),(356,1.46),(368,2.2),(380,1.46),(392,2.2),(404,1.46),(416,2.2),
                (427,1.46),(439,2.2),(451,1.46),(465,2.2),(479,1.46),(491,2.2),(503,1.46),(515,2.2),(526,1.46),
                (538,2.2),(550,1.46),(562,2.2),(573,1.46),(585,2.2),(597,1.46),(609,2.2),(621,1.46),(633,2.2),
                (644,1.46),(650,1.8),(656,1.33),(700,1.33)]
RB_KNEE_RED = [(0,0.0),
               (5,1.44),(10,-0.1),(13,-0.55),(17,0.0),(22,0.05),
               (29,1.5),(34,-0.1),(37,-0.6),(41,0.0),(47,0.05),
               (54,1.44),(59,-0.1),(62,-0.55),(66,0.0),(71,0.05),
               (77,1.5),(82,-0.1),(85,-0.6),(89,0.0),(94,0.05),
               (99,1.44),(104,-0.1),(107,-0.55),(111,0.0),(116,0.05),
               (120,1.5),(125,-0.1),(128,-0.6),(132,0.0),(138,0.05),
               (144,1.44),(149,-0.1),(152,-0.55),(156,0.0),(161,0.05),
               (165,1.44),(170,-0.1),(173,-0.55),(177,0.0),(183,0.05),
               (189,1.4),(194,-0.1),(197,-0.55),(201,0.0),(206,0.05),
               (210,1.44),(215,-0.1),(218,-0.6),(222,0.0),(229,0.05),
               (236,1.35),(241,-0.1),(244,-0.55),(248,0.0),(253,0.05),
               (258,1.3),(263,-0.1),(266,-0.5),(270,0.0),(276,0.05),
               (281,1.17),(286,-0.1),(289,-0.55),(293,0.0),(299,0.05),
               (304,1.1),(309,-0.1),(312,-0.5),(316,0.0),(322,0.05),
               (328,1.17),(333,-0.1),(336,-0.55),(340,0.0),(346,0.05),
               (352,1.1),(357,-0.1),(360,-0.5),(364,0.0),(368,0.05),
               (373,1.17),(378,-0.1),(381,-0.6),(385,0.0),(391,0.05),
               (396,1.1),(401,-0.1),(404,-0.5),(408,0.0),(414,0.05),
               (420,1.0),(425,-0.1),(428,-0.55),(432,0.0),(438,0.05),
               (444,1.1),(449,-0.1),(452,-0.5),(456,0.0),(461,0.05),
               (467,1.05),(472,-0.1),(475,-0.55),(479,0.0),(487,0.05),
               (493,1.1),(498,-0.1),(501,-0.5),(505,0.0),(511,0.05),
               (517,1.0),(522,-0.1),(525,-0.55),(529,0.0),(534,0.05),
               (540,1.1),(545,-0.1),(548,-0.5),(552,0.0),(560,0.05),
               (566,1.05),(571,-0.1),(574,-0.55),(578,0.0),(584,0.05),
               (590,1.1),(595,-0.1),(598,-0.5),(602,0.0),(610,0.05),
               (616,1.05),(621,-0.1),(624,-0.55),(628,0.0),(634,0.05),
               (640,1.0),(645,-0.1),(648,-0.5),(652,0.0),
               (658,1.04),(668,1.7),(673,0.5),(677,0.1),(682,1.04),(687,1.7),(691,0.5),(696,0.03),(700,0.03)]

LEFT_GROUPS = [
    ("Head", [("Tilt", HEAD_TILT_RED, HEAD_TILT_BLUE),
              ("Pan", HEAD_PAN_RED, HEAD_PAN_BLUE),
              ("Roll", HEAD_ROLL_RED, HEAD_ROLL_BLUE)]),
    ("Left Front", [("Rotator", LF_ROT_RED, LF_ROT_BLUE),
                    ("Elevator", LF_ELEV_RED, LF_ELEV_BLUE),
                    ("Knee", LF_KNEE_RED, LF_KNEE_BLUE)]),
    ("Left Back", [("Rotator", LB_ROT_RED, LB_ROT_BLUE),
                   ("Elevator", LB_ELEV_RED, LB_ELEV_BLUE),
                   ("Knee", LB_KNEE_RED, LB_KNEE_BLUE)]),
]
RIGHT_GROUPS = [
    ("Misc", [("Tail Tilt", TAIL_TILT_RED, TAIL_TILT_BLUE),
              ("Tail Pan", TAIL_PAN_RED, TAIL_PAN_BLUE),
              ("Jaw", JAW_RED, JAW_BLUE)]),
    ("Right Front", [("Rotator", RF_ROT_RED, RF_ROT_BLUE),
                     ("Elevator", RF_ELEV_RED, RF_ELEV_BLUE),
                     ("Knee", RF_KNEE_RED, RF_KNEE_BLUE)]),
    ("Right Back", [("Rotator", RB_ROT_RED, RB_ROT_BLUE),
                    ("Elevator", RB_ELEV_RED, RB_ELEV_BLUE),
                    ("Knee", RB_KNEE_RED, RB_KNEE_BLUE)]),
]

PANEL_W = 700
PANEL_H = 79
TITLE_ROW_H = 16.5
ROW_GAP = 15.5
COL_GAP = 176

NO_VIEW = alt.ViewBackground(fill="transparent", stroke="transparent")


def panel(label, red, blue):
    df = pd.DataFrame([{"t": t, "v": v, "s": "blue"} for t, v in blue] +
                      [{"t": t, "v": v, "s": "red"} for t, v in red])
    x = alt.X("t:Q", scale=alt.Scale(domain=[0, FRAMES], nice=False, zero=False),
              axis=alt.Axis(title=None, labels=False, ticks=False, grid=False,
                            domainColor=AXIS, domainWidth=2))
    y = alt.Y("v:Q", scale=alt.Scale(domain=[-PI2, PI2], nice=False, zero=False),
              axis=alt.Axis(values=[-PI2, 0, PI2],
                            labelExpr="datum.value > 0.5 ? 'pi/2' : (datum.value < -0.5 ? '- pi/2' : '0')",
                            title=label, ticks=False, grid=False, domainColor=AXIS, domainWidth=2,
                            labelFontSize=18, labelFont=FONT, labelColor=TEXT, labelPadding=7,
                            labelOverlap=False, titleFontSize=18, titleFont=FONT,
                            titleFontWeight="normal", titleColor=TEXT, titlePadding=6,
                            minExtent=65, maxExtent=65))
    base = alt.Chart(df)
    b = base.transform_filter(alt.datum.s == "blue").mark_line(
        clip=True, color=BLUE, strokeWidth=1.8).encode(x=x, y=y)
    r = base.transform_filter(alt.datum.s == "red").mark_line(
        clip=True, color=RED, strokeWidth=1.8).encode(x=x, y=y)
    return alt.layer(b, r).properties(width=PANEL_W, height=PANEL_H)


def group_title(text):
    return alt.Chart(pd.DataFrame({"g": [text]})).mark_text(
        font=FONT, fontSize=18, color=TEXT, align="center", baseline="middle").encode(
        text="g:N", x=alt.value(PANEL_W / 2), y=alt.value(10)
    ).properties(width=PANEL_W, height=TITLE_ROW_H, view=NO_VIEW)


cells = []
for (lt, lrows), (rt, rrows) in zip(LEFT_GROUPS, RIGHT_GROUPS):
    cells += [group_title(lt), group_title(rt)]
    for (ll, lred, lblue), (rl, rred, rblue) in zip(lrows, rrows):
        cells += [panel(ll, lred, lblue), panel(rl, rred, rblue)]

grid = alt.concat(*cells, columns=2, spacing={"row": ROW_GAP, "column": COL_GAP}, bounds="flush")

# ---- window frame and title bar (positions relative to the plot origin) ----
deco = pd.DataFrame({"name": ["joints"]})
BAR_W = 2 * PANEL_W + COL_GAP
BAR_H = 34


def rect(x1, y1, x2, y2, fill, stroke=None):
    kw = dict(fill=fill, strokeWidth=1)
    if stroke:
        kw["stroke"] = stroke
    else:
        kw["strokeWidth"] = 0
    return alt.Chart(deco).mark_rect(**kw).encode(
        x=alt.value(x1), x2=alt.value(x2), y=alt.value(y1), y2=alt.value(y2))


def vrule(xpos, y1=0, y2=BAR_H, color=PINK_DARK, width=2):
    return alt.Chart(deco).mark_rule(color=color, strokeWidth=width).encode(
        x=alt.value(xpos), y=alt.value(y1), y2=alt.value(y2))


bar_text = alt.Chart(deco).mark_text(
    font="Liberation Serif", fontWeight="bold", fontSize=25, color="#151515",
    align="center", baseline="middle").encode(
    text="name:N", x=alt.value(764), y=alt.value(18))

bar = alt.layer(
    rect(-98, -9, 1658, -8, DARK),
    rect(-98, -9, -96, 1077, DARK),
    rect(-96, -8, 1658, 0, PINK_FRAME),
    rect(-96, -8, -89, 1077, PINK_FRAME),
    rect(1654, -8, 1658, 1077, PINK_FRAME),
    vrule(-90, -8, 1077, "#e6aab3", 1),
    rect(-89, 0, 1654, BAR_H, PINK, "#b06474"),
    vrule(-52), vrule(1589), vrule(1624),
    rect(-81, 9, -60, 26, "#de96a1", PINK_DARK),
    rect(1600, 9, 1618, 26, "#de96a1", PINK_DARK),
    rect(1606, 14, 1612, 21, "#e8b0b9", PINK_DARK),
    rect(1631, 4, 1651, 30, "#de96a1", PINK_DARK),
    bar_text,
).properties(width=BAR_W, height=BAR_H, view=NO_VIEW)

chart = alt.vconcat(bar, grid, spacing=101 - TITLE_ROW_H - ROW_GAP, bounds="flush").properties(
    background=WINDOW,
    padding={"left": 0, "top": 0, "right": 0, "bottom": 0},
).configure_view(stroke="transparent", fill=PLOT_BG)

chart.save("out.html", embed_options={"renderer": "svg", "actions": False})
